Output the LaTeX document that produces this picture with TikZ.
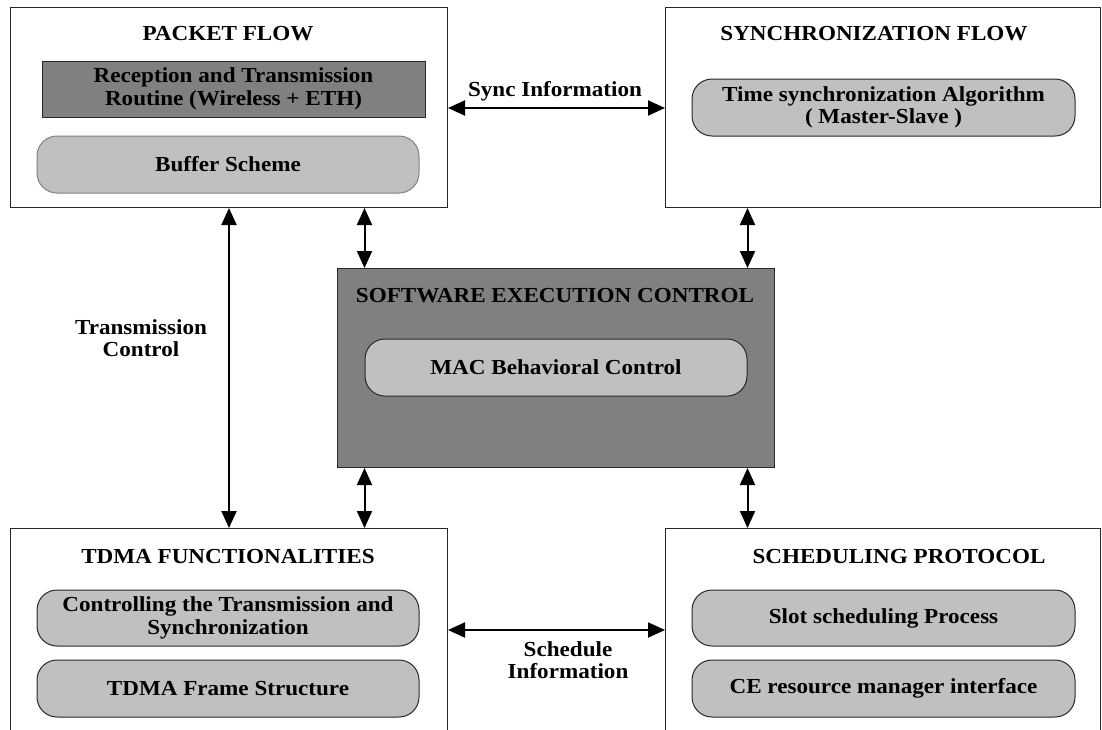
\documentclass[tikz,border=0pt]{standalone}
\usepackage{fontspec}
\setmainfont{Liberation Serif}[FakeStretch=1.08]
\usetikzlibrary{arrows.meta}
\definecolor{darkfill}{RGB}{128,128,128}
\definecolor{lightfill}{RGB}{192,192,192}
\definecolor{boxline}{RGB}{40,40,40}
\definecolor{softline}{RGB}{130,130,130}
\tikzset{
  txt/.style={font=\fontsize{10.7}{11.2}\selectfont\bfseries, text=black, align=center},
  outerbox/.style={draw=boxline, line width=0.5pt, fill=white, anchor=north west, inner sep=0pt},
  darkbox/.style={draw=boxline, line width=0.5pt, fill=darkfill, anchor=north west, inner sep=0pt},
  pill/.style={txt, draw=boxline, line width=0.5pt, fill=lightfill, rounded corners=10pt, inner sep=0pt},
  softpill/.style={pill, draw=softline},
  dbl/.style={line width=1pt, black, {Triangle[length=8.5pt,width=7.5pt]}-{Triangle[length=8.5pt,width=7.5pt]}, shorten <=0pt, shorten >=0pt},
}
\begin{document}
\begin{tikzpicture}[x=0.5pt,y=-0.5pt]
\useasboundingbox (0,0) rectangle (1102,729);
\clip (0,0) rectangle (1102,729);
% outer boxes
\node[outerbox, minimum width=218.5pt, minimum height=100pt] (pf) at (10,7) {};
\node[outerbox, minimum width=217.5pt, minimum height=100pt] (sf) at (665,7) {};
\node[darkbox, minimum width=218.5pt, minimum height=99.5pt] (sec) at (337,268) {};
\node[outerbox, minimum width=218.5pt, minimum height=105pt] (tdma) at (10,528) {};
\node[outerbox, minimum width=217.5pt, minimum height=105pt] (sp) at (665,528) {};
% titles
\node[txt] (pft) at (228,34) {PACKET FLOW};
\node[txt] (sft) at (874,34) {SYNCHRONIZATION FLOW};
\node[txt] (sect) at (555,296) {SOFTWARE EXECUTION CONTROL};
\node[txt] (tdmat) at (228,557) {TDMA FUNCTIONALITIES};
\node[txt] (spt) at (899,557) {SCHEDULING PROTOCOL};
% inner boxes
\node[txt, draw=boxline, line width=0.5pt, fill=darkfill, inner sep=0pt, minimum width=191.5pt, minimum height=28pt] (rt) at (233.5,89) {Reception and Transmission\\Routine (Wireless + ETH)};
\node[softpill, minimum width=191pt, minimum height=28.5pt] (buf) at (228,164.5) {Buffer Scheme};
\node[pill, minimum width=191.5pt, minimum height=28.5pt] (ts) at (883.5,107.5) {Time synchronization Algorithm\\( Master-Slave )};
\node[pill, minimum width=191pt, minimum height=28.5pt] (mac) at (556,367.5) {MAC Behavioral Control};
\node[pill, minimum width=191pt, minimum height=28pt] (ctl) at (228,618) {Controlling the Transmission and\\Synchronization};
\node[pill, minimum width=191pt, minimum height=28.5pt] (tfs) at (228,688.5) {TDMA Frame Structure};
\node[pill, minimum width=191.5pt, minimum height=28pt] (ssp) at (883.5,618) {Slot scheduling Process};
\node[pill, minimum width=191.5pt, minimum height=28.5pt] (ce) at (883.5,688.5) {CE resource manager interface};
% labels
\node[txt] (syncl) at (555,91) {Sync Information};
\node[txt] (transl) at (141,338) {Transmission\\Control};
\node[txt] (schedl) at (568,660) {Schedule\\Information};
% connector anchors
\coordinate (sy) at (0,108);
\coordinate (sc) at (0,630);
% connectors
\draw[dbl] (pf.east |- sy) -- (sf.west |- sy);
\draw[dbl] (tdma.east |- sc) -- (sp.west |- sc);
\draw[dbl] (pf.south) -- (tdma.north);
\draw[dbl] (pf.south -| mac.west) -- (sec.north -| mac.west);
\draw[dbl] (sf.south -| mac.east) -- (sec.north -| mac.east);
\draw[dbl] (sec.south -| mac.west) -- (tdma.north -| mac.west);
\draw[dbl] (sec.south -| mac.east) -- (sp.north -| mac.east);
\end{tikzpicture}
\end{document}
